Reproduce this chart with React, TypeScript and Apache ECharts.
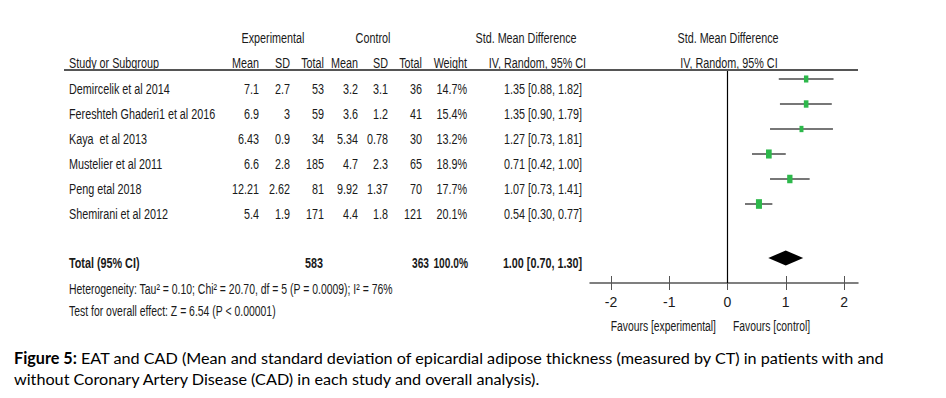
import React, { useEffect, useRef } from "react";
import * as echarts from "echarts";

const studies = [
  "Demircelik et al 2014",
  "Fereshteh Ghaderi1 et al 2016",
  "Kaya  et al 2013",
  "Mustelier et al 2011",
  "Peng etal 2018",
  "Shemirani et al 2012",
];
const expMean = ["7.1", "6.9", "6.43", "6.6", "12.21", "5.4"];
const expSD = ["2.7", "3", "0.9", "2.8", "2.62", "1.9"];
const expTotal = ["53", "59", "34", "185", "81", "171"];
const ctrlMean = ["3.2", "3.6", "5.34", "4.7", "9.92", "4.4"];
const ctrlSD = ["3.1", "1.2", "0.78", "2.3", "1.37", "1.8"];
const ctrlTotal = ["36", "41", "30", "65", "70", "121"];
const weights = [14.7, 15.4, 13.2, 18.9, 17.7, 20.1];
const smd = [1.35, 1.35, 1.27, 0.71, 1.07, 0.54];
const ciLow = [0.88, 0.9, 0.73, 0.42, 0.73, 0.3];
const ciHigh = [1.82, 1.79, 1.81, 1.0, 1.41, 0.77];

const totalSmd = 1.0;
const totalLow = 0.7;
const totalHigh = 1.3;
const totalExp = "583";
const totalCtrl = "363";
const totalWeight = "100.0%";
const heterogeneity = "Heterogeneity: Tau\u00b2 = 0.10; Chi\u00b2 = 20.70, df = 5 (P = 0.0009); I\u00b2 = 76%";
const overallTest = "Test for overall effect: Z = 6.54 (P < 0.00001)";
const xTicks = [-2, -1, 0, 1, 2];

const fmt = (v: number) => v.toFixed(2);

const FONT = "'Liberation Sans', Arial, sans-serif";
const CAPFONT = "Lato, 'Open Sans', sans-serif";
const TXT = "#1a1a1a";
const SX = 0.72;

export default function App() {
  const ref = useRef<HTMLDivElement>(null);
  useEffect(() => {
    if (!ref.current) return;
    const chart = echarts.init(ref.current, undefined, { renderer: "svg" });

    const rowY = (i: number) => 89 + 25 * i;
    const t = (text: string, x: number, y: number, align: string, bold = false, size = 15, sx = SX) => ({
      type: "text",
      x,
      y,
      scaleX: sx,
      style: {
        text,
        fill: TXT,
        font: `${bold ? "bold " : ""}${size}px ${FONT}`,
        textAlign: align,
        textVerticalAlign: "middle",
      },
    });

    const g: any[] = [];
    // headers
    g.push(t("Experimental", 273, 38, "center"));
    g.push(t("Control", 373, 38, "center"));
    g.push(t("Std. Mean Difference", 526, 38, "center"));
    g.push(t("Std. Mean Difference", 728, 38, "center"));
    g.push(t("Study or Subgroup", 69, 63, "left"));
    g.push(t("Mean", 259, 63, "right"));
    g.push(t("SD", 290, 63, "right"));
    g.push(t("Total", 324, 63, "right"));
    g.push(t("Mean", 358, 63, "right"));
    g.push(t("SD", 388, 63, "right"));
    g.push(t("Total", 422, 63, "right"));
    g.push(t("Weight", 467, 63, "right"));
    g.push(t("IV, Random, 95% CI", 586, 63, "right"));
    g.push(t("IV, Random, 95% CI", 729, 63, "center"));
    g.push({
      type: "line",
      shape: { x1: 64, y1: 70, x2: 858, y2: 70 },
      style: { stroke: "#555", lineWidth: 2 },
    });
    studies.forEach((s, i) => {
      const y = rowY(i);
      g.push(t(s, 69, y, "left"));
      g.push(t(expMean[i], 259, y, "right"));
      g.push(t(expSD[i], 290, y, "right"));
      g.push(t(expTotal[i], 324, y, "right"));
      g.push(t(ctrlMean[i], 358, y, "right"));
      g.push(t(ctrlSD[i], 388, y, "right"));
      g.push(t(ctrlTotal[i], 422, y, "right"));
      g.push(t(weights[i].toFixed(1) + "%", 467, y, "right"));
      g.push(t(`${fmt(smd[i])} [${fmt(ciLow[i])}, ${fmt(ciHigh[i])}]`, 582, y, "right"));
    });
    g.push(t("Total (95% CI)", 69, 263, "left", true));
    g.push(t(totalExp, 323, 263, "right", true));
    g.push(t(totalCtrl, 429, 263, "right", true, 15, 0.68));
    g.push(t(totalWeight, 468, 263, "right", true, 15, 0.68));
    g.push(t(`${fmt(totalSmd)} [${fmt(totalLow)}, ${fmt(totalHigh)}]`, 582, 263, "right", true));
    g.push(t(heterogeneity, 69, 289, "left", false, 14.5, 0.72));
    g.push(t(overallTest, 69, 311, "left", false, 14.5, 0.72));
    g.push(t("Favours [experimental]", 716, 326, "right", false, 14.5, 0.715));
    g.push(t("Favours [control]", 733, 326, "left", false, 14.5, 0.715));
    // caption
    g.push({
      type: "text",
      x: 14,
      y: 357,
      style: {
        text: "{b|Figure 5:} EAT and CAD (Mean and standard deviation of epicardial adipose thickness (measured by CT) in patients with and",
        fill: "#000",
        font: `16.2px ${CAPFONT}`,
        textVerticalAlign: "middle",
        rich: { b: { fontWeight: "bold", fontSize: 16.2, fontFamily: CAPFONT, fill: "#000" } },
      },
    });
    g.push({
      type: "text",
      x: 14,
      y: 378,
      style: {
        text: "without Coronary Artery Disease (CAD) in each study and overall analysis).",
        fill: "#000",
        font: `16.2px ${CAPFONT}`,
        textVerticalAlign: "middle",
      },
    });

    const studyData = studies.map((_, i) => [smd[i], i, ciLow[i], ciHigh[i], weights[i]]);
    const yMin = -0.52;
    const yMax = 7.96;
    const totalRow = 6.96;

    chart.setOption({
      animation: false,
      backgroundColor: "#fff",
      grid: { left: 590, top: 71, width: 268, height: 212 },
      xAxis: [
        {
          type: "value",
          min: -2.36,
          max: 2.24,
          position: "bottom",
          splitLine: { show: false },
          axisLine: { show: true, onZero: false, lineStyle: { color: "#555", width: 1.5 } },
          axisTick: { show: true, inside: false, length: 7, customValues: xTicks, lineStyle: { color: "#555", width: 1 } },
          axisLabel: { show: true, customValues: xTicks, margin: 12, color: "#1a1a1a", fontSize: 14, fontFamily: FONT },
        },
        {
          type: "value",
          min: -2.36,
          max: 2.24,
          position: "bottom",
          splitLine: { show: false },
          axisLine: { show: false, onZero: false },
          axisTick: { show: true, inside: true, length: 7, customValues: xTicks, lineStyle: { color: "#555", width: 1 } },
          axisLabel: { show: false },
        },
      ],
      yAxis: { type: "value", inverse: true, min: yMin, max: yMax, show: false },
      series: [
        {
          type: "line",
          data: [
            [0, yMin],
            [0, yMax],
          ],
          symbol: "none",
          lineStyle: { color: "#000", width: 1.2 },
          silent: true,
        },
        {
          type: "custom",
          data: studyData,
          renderItem: (params: any, api: any) => {
            const y = api.value(1) - 0.2;
            const p1 = api.coord([api.value(2), y]);
            const p2 = api.coord([api.value(3), y]);
            const c = api.coord([api.value(0), y]);
            const w = api.value(4) * 0.3;
            const h = api.value(4) * 0.48;
            return {
              type: "group",
              children: [
                { type: "line", shape: { x1: p1[0], y1: p1[1], x2: p2[0], y2: p2[1] }, style: { stroke: "#4a4a4a", lineWidth: 1.5 } },
                { type: "rect", shape: { x: c[0] - w / 2, y: c[1] - h / 2, width: w, height: h }, style: { fill: "#2db84b" } },
              ],
            };
          },
        },
        {
          type: "custom",
          data: [[totalSmd, totalRow, totalLow, totalHigh]],
          renderItem: (params: any, api: any) => {
            const y = api.value(1);
            const l = api.coord([api.value(2), y]);
            const r = api.coord([api.value(3), y]);
            const m = api.coord([api.value(0), y]);
            const hh = 7.5;
            return {
              type: "polygon",
              shape: { points: [[l[0], l[1]], [m[0], m[1] - hh], [r[0], r[1]], [m[0], m[1] + hh]] },
              style: { fill: "#000" },
            };
          },
        },
      ],
      graphic: g,
    });
    return () => chart.dispose();
  }, []);
  return <div ref={ref} style={{ position: "fixed", left: 0, top: 0, width: 946, height: 398, background: "#fff" }} />;
}
